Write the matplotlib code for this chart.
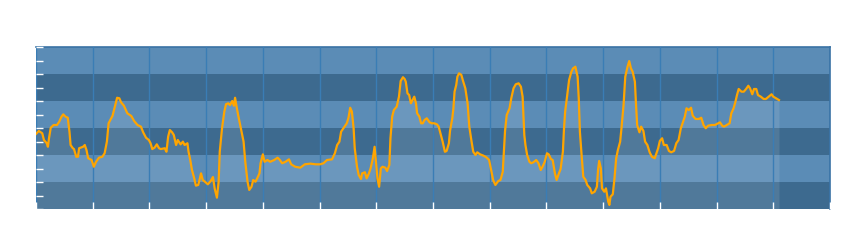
import matplotlib
matplotlib.use("Agg")
import matplotlib.pyplot as plt

# readings taken off the reference chart (x in days, y in level units 0-12)
days = [
    0.00, 0.05, 0.11, 0.14, 0.19, 0.21, 0.23, 0.26, 0.31, 0.37, 0.41, 0.45, 0.48, 0.52, 0.56,
    0.59, 0.61, 0.65, 0.67, 0.71, 0.74, 0.76, 0.83, 0.86, 0.89, 0.92, 0.98, 1.02, 1.06, 1.11,
    1.17, 1.21, 1.25, 1.28, 1.32, 1.35, 1.39, 1.43, 1.47, 1.50, 1.55, 1.61, 1.68, 1.73, 1.79,
    1.85, 1.89, 1.94, 1.99, 2.02, 2.05, 2.09, 2.13, 2.17, 2.20, 2.27, 2.30, 2.33, 2.36, 2.40,
    2.43, 2.47, 2.50, 2.55, 2.59, 2.62, 2.67, 2.69, 2.72, 2.75, 2.79, 2.82, 2.86, 2.89, 2.91,
    2.94, 2.99, 3.03, 3.08, 3.12, 3.15, 3.19, 3.22, 3.24, 3.28, 3.32, 3.35, 3.39, 3.42, 3.46,
    3.49, 3.51, 3.54, 3.57, 3.61, 3.66, 3.69, 3.73, 3.76, 3.80, 3.83, 3.87, 3.90, 3.94, 3.96,
    4.00, 4.03, 4.08, 4.13, 4.20, 4.26, 4.30, 4.34, 4.40, 4.46, 4.50, 4.57, 4.66, 4.74, 4.84,
    4.93, 5.01, 5.07, 5.13, 5.22, 5.27, 5.31, 5.35, 5.38, 5.44, 5.48, 5.51, 5.54, 5.57, 5.60,
    5.62, 5.66, 5.69, 5.73, 5.75, 5.80, 5.83, 5.87, 5.90, 5.94, 5.97, 6.00, 6.02, 6.05, 6.08,
    6.11, 6.16, 6.19, 6.23, 6.25, 6.28, 6.31, 6.36, 6.40, 6.43, 6.47, 6.50, 6.52, 6.55, 6.58,
    6.61, 6.64, 6.67, 6.70, 6.72, 6.76, 6.79, 6.82, 6.85, 6.89, 6.94, 6.98, 7.02, 7.07, 7.10,
    7.14, 7.17, 7.21, 7.24, 7.28, 7.30, 7.34, 7.36, 7.38, 7.41, 7.43, 7.46, 7.50, 7.53, 7.57,
    7.61, 7.64, 7.68, 7.71, 7.75, 7.78, 7.83, 7.89, 7.94, 7.99, 8.03, 8.06, 8.10, 8.15, 8.19,
    8.23, 8.27, 8.30, 8.35, 8.38, 8.42, 8.46, 8.51, 8.55, 8.58, 8.61, 8.63, 8.66, 8.70, 8.73,
    8.77, 8.82, 8.86, 8.90, 8.94, 8.97, 9.01, 9.04, 9.08, 9.11, 9.15, 9.18, 9.22, 9.25, 9.29,
    9.31, 9.33, 9.37, 9.40, 9.44, 9.47, 9.51, 9.55, 9.57, 9.59, 9.62, 9.65, 9.69, 9.72, 9.77,
    9.80, 9.85, 9.89, 9.91, 9.93, 9.96, 9.98, 10.02, 10.05, 10.09, 10.11, 10.13, 10.17, 10.20, 10.23,
    10.26, 10.30, 10.32, 10.36, 10.39, 10.43, 10.46, 10.49, 10.52, 10.56, 10.58, 10.60, 10.64, 10.67, 10.71,
    10.74, 10.78, 10.82, 10.86, 10.91, 10.93, 10.97, 11.00, 11.04, 11.07, 11.12, 11.16, 11.20, 11.25, 11.29,
    11.33, 11.37, 11.40, 11.44, 11.47, 11.51, 11.55, 11.58, 11.63, 11.69, 11.73, 11.77, 11.81, 11.85, 11.91,
    11.97, 12.03, 12.06, 12.10, 12.13, 12.18, 12.23, 12.26, 12.30, 12.33, 12.36, 12.39, 12.44, 12.48, 12.52,
    12.56, 12.59, 12.63, 12.66, 12.70, 12.73, 12.78, 12.83, 12.87, 12.92, 12.97, 13.00, 13.05, 13.10,
]
level = [
    5.56, 5.78, 5.61, 5.11, 4.87, 4.61, 5.26, 6.02, 6.22, 6.22, 6.47, 6.84, 7.01, 6.84, 6.76,
    5.73, 4.74, 4.50, 4.44, 3.87, 3.87, 4.50, 4.61, 4.74, 4.37, 3.76, 3.63, 3.13, 3.50, 3.80,
    3.87, 4.13, 4.99, 6.35, 6.67, 6.91, 7.58, 8.24, 8.20, 7.90, 7.65, 7.09, 6.89, 6.52, 6.22,
    6.10, 5.68, 5.28, 5.11, 4.87, 4.44, 4.54, 4.79, 4.50, 4.44, 4.50, 4.24, 5.36, 5.85, 5.68,
    5.48, 4.74, 5.11, 4.79, 4.99, 4.74, 4.87, 4.24, 3.63, 2.89, 2.27, 1.73, 1.78, 2.27, 2.64,
    2.15, 1.98, 1.83, 2.07, 2.37, 1.53, 0.84, 2.02, 4.24, 5.98, 7.21, 7.76, 7.83, 7.70, 8.00,
    7.65, 8.24, 7.50, 6.84, 6.02, 4.99, 3.50, 2.02, 1.41, 1.65, 2.15, 2.02, 2.27, 2.64, 3.39,
    4.05, 3.50, 3.63, 3.50, 3.63, 3.80, 3.63, 3.39, 3.50, 3.68, 3.31, 3.13, 3.06, 3.31, 3.36,
    3.31, 3.31, 3.39, 3.63, 3.68, 4.13, 4.74, 4.99, 5.73, 6.10, 6.35, 6.76, 7.50, 7.21, 5.98,
    4.50, 3.13, 2.52, 2.22, 2.64, 2.72, 2.27, 2.64, 3.01, 3.76, 4.61, 3.26, 2.27, 1.65, 3.01,
    3.13, 3.06, 2.81, 3.26, 5.24, 6.84, 7.33, 7.58, 8.32, 9.48, 9.76, 9.63, 9.43, 8.57, 8.44,
    7.83, 8.07, 8.32, 7.83, 7.09, 6.84, 6.35, 6.35, 6.59, 6.72, 6.42, 6.35, 6.35, 6.27, 6.10,
    5.48, 4.99, 4.24, 4.30, 4.87, 5.78, 6.72, 7.46, 8.69, 9.19, 9.80, 10.05, 9.93, 9.48, 8.94,
    7.83, 6.10, 4.99, 4.24, 4.00, 4.20, 4.05, 3.95, 3.83, 3.63, 2.76, 2.15, 1.78, 2.07, 2.15,
    2.76, 5.78, 6.96, 7.46, 8.20, 8.94, 9.24, 9.31, 9.06, 8.32, 5.48, 4.74, 4.00, 3.50, 3.39,
    3.46, 3.63, 3.39, 2.89, 3.21, 3.50, 4.13, 4.05, 3.70, 3.63, 2.64, 2.15, 2.64, 2.96, 4.24,
    5.98, 7.21, 8.57, 9.56, 10.17, 10.42, 10.54, 9.80, 8.20, 5.73, 4.00, 2.39, 2.15, 1.78, 1.53,
    1.16, 1.28, 1.65, 2.89, 3.56, 3.01, 1.53, 1.28, 1.53, 0.54, 0.30, 0.91, 1.09, 2.27, 3.76,
    4.37, 4.99, 5.85, 7.70, 9.80, 10.54, 10.96, 10.42, 10.17, 9.43, 7.70, 6.22, 5.68, 6.10, 5.78,
    4.99, 4.74, 4.20, 3.87, 3.76, 4.00, 4.50, 5.04, 5.24, 4.74, 4.74, 4.30, 4.20, 4.30, 4.87,
    5.11, 5.98, 6.35, 6.84, 7.46, 7.33, 7.50, 6.91, 6.67, 6.67, 6.76, 6.22, 5.98, 6.17, 6.22,
    6.22, 6.35, 6.42, 6.17, 6.10, 6.22, 6.35, 7.09, 7.46, 7.90, 8.44, 8.89, 8.69, 8.69, 8.89,
    9.13, 8.94, 8.50, 8.89, 8.89, 8.44, 8.32, 8.15, 8.15, 8.32, 8.50, 8.32, 8.20, 8.07,
]

band_light = "#5b8cb6"
band_dark = "#3d6a8f"
grid_blue = "#3a7db5"

fig = plt.figure(figsize=(8.5, 2.4), dpi=100)
ax = fig.add_axes([36 / 850, 31 / 240, 794 / 850, 162 / 240])

# alternating horizontal bands
for i in range(6):
    ax.axhspan(2 * i, 2 * i + 2, color=band_dark if i % 2 == 0 else band_light, lw=0, zorder=0)

ax.fill_between(days, level, 0, color="white", alpha=0.1, lw=0, zorder=1)
ax.plot(days, level, color="#ffa500", lw=1.6, zorder=3)

ax.set_xlim(0, 14)
ax.set_ylim(0, 12)
ax.set_xticks(range(15))
ax.set_yticks(range(13))
ax.grid(axis="x", color=grid_blue, lw=1, zorder=2)
ax.set_axisbelow(False)
ax.tick_params(direction="in", colors="white", length=5, width=1,
               labelbottom=False, labelleft=False, top=False, right=False)

for side in ("left", "bottom"):
    ax.spines[side].set_visible(False)
for side in ("top", "right"):
    ax.spines[side].set_color("#3a72a4")
    ax.spines[side].set_linewidth(1.2)

fig.savefig("out.png", dpi=100)
